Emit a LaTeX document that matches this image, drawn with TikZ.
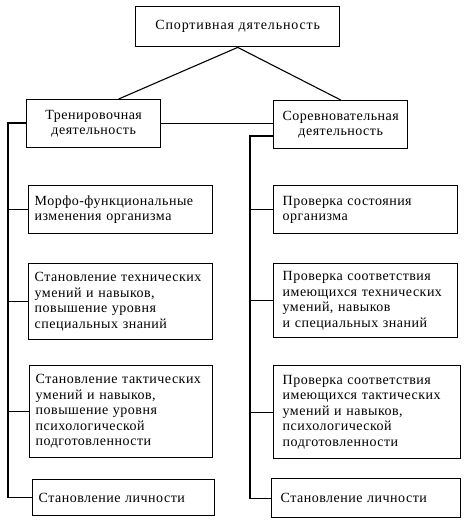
\documentclass[tikz,border=0pt]{standalone}
\usepackage{fontspec}
\setmainfont[LetterSpace=3.5]{Liberation Serif}
\newfontfamily\wideserif[LetterSpace=6]{Liberation Serif}
\begin{document}
\begin{tikzpicture}[x=1pt,y=-1pt,
  box/.style={draw,line width=1.4pt,anchor=north west,inner xsep=0pt,inner ysep=0pt,
    font=\fontsize{14}{15.5}\selectfont},
  lbox/.style={box,align=left,inner xsep=6pt},
  rbox/.style={box,align=left,inner xsep=9pt},
  cbox/.style={box,align=center},
  conn/.style={line width=1.1pt}]
\useasboundingbox (0,0) rectangle (463,526);
\node[cbox,minimum width=204pt,minimum height=40pt,text width=204pt,font=\wideserif\fontsize{14}{15.5}\selectfont] (top) at (135,6) {Спортивная дятельность};
\node[cbox,minimum width=134pt,minimum height=48pt,text width=134pt] (tren) at (26,99) {Тренировочная\\деятельность};
\node[cbox,minimum width=134pt,minimum height=48pt,text width=134pt] (sor) at (273,100) {Соревновательная\\деятельность};
\node[lbox,minimum width=184pt,minimum height=48pt,text width=172pt] (l1) at (28,185) {Морфо-функциональные\\изменения организма};
\node[lbox,minimum width=184pt,minimum height=76pt,text width=172pt] (l2) at (28,263) {Становление технических\\умений и навыков,\\повышение уровня\\специальных знаний};
\node[lbox,minimum width=183pt,minimum height=92pt,text width=171pt] (l3) at (29,365) {Становление тактических\\умений и навыков,\\повышение уровня\\психологической\\подготовленности};
\node[lbox,minimum width=182pt,minimum height=36pt,text width=170pt] (l4) at (32,479) {Становление личности};
\node[rbox,minimum width=184pt,minimum height=48pt,text width=166pt] (r1) at (273,185) {Проверка состояния\\организма};
\node[rbox,minimum width=184pt,minimum height=74pt,text width=166pt] (r2) at (273,263) {Проверка соответствия\\имеющихся технических\\умений, навыков\\и специальных знаний};
\node[rbox,minimum width=187pt,minimum height=93pt,text width=169pt] (r3) at (273,365) {Проверка соответствия\\имеющихся тактических\\умений и навыков,\\психологической\\подготовленности};
\node[rbox,minimum width=189pt,minimum height=39pt,text width=171pt] (r4) at (271,478) {Становление личности};
\coordinate (lt) at (8,123);
\coordinate (rt) at (250,136);
\draw[conn] (top.south) -- ([xshift=25pt]tren.north);
\draw[conn] (top.south) -- (sor.north);
\draw[conn] (tren.east) -- (sor.west |- tren.east);
\draw[conn] (tren.west |- lt) -- (lt) |- (l4.west);
\draw[conn] (l1.west) -- (l1.west -| lt);
\draw[conn] (l2.west) -- (l2.west -| lt);
\draw[conn] (l3.west) -- (l3.west -| lt);
\draw[conn] (sor.west |- rt) -- (rt) |- (r4.west);
\draw[conn] (r1.west) -- (r1.west -| rt);
\draw[conn] (r2.west) -- (r2.west -| rt);
\draw[conn] (r3.west) -- (r3.west -| rt);
\end{tikzpicture}
\end{document}
